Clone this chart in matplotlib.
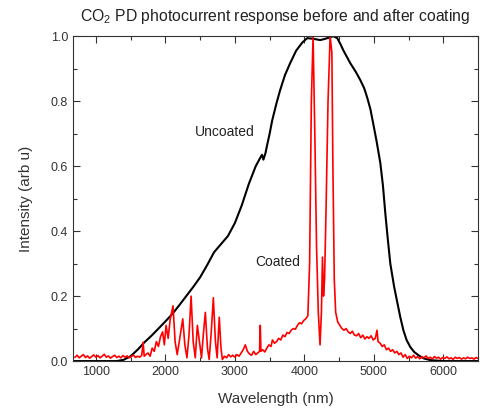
import matplotlib
matplotlib.use('Agg')
import matplotlib.pyplot as plt
from matplotlib.ticker import MultipleLocator, FormatStrFormatter

# ------------------------------------------------------ #
# Data
# ------------------------------------------------------ #
uncoated_wl = [700, 1000, 1300, 1400, 1500, 1600, 1700, 1800, 1900, 2000, 2100,
               2200, 2300, 2400, 2500, 2600, 2700, 2800, 2900, 3000, 3100, 3200,
               3300, 3363, 3390, 3410, 3440, 3464, 3500, 3536, 3600, 3651, 3720,
               3795, 3880, 3968, 4040, 4130, 4228, 4300, 4372, 4415, 4473, 4520,
               4559, 4660, 4740, 4804, 4860, 4905, 4950, 4991, 5040, 5092, 5130,
               5164, 5200, 5236, 5290, 5337, 5380, 5424, 5470, 5524, 5580, 5640,
               5720, 5813, 6000, 6500]
uncoated_int = [0.0, 0.0, 0.0, 0.004, 0.015, 0.035, 0.058, 0.078, 0.100, 0.122, 0.145,
                0.172, 0.200, 0.228, 0.258, 0.295, 0.335, 0.360, 0.385, 0.425, 0.480, 0.545,
                0.600, 0.625, 0.635, 0.620, 0.640, 0.665, 0.700, 0.740, 0.795, 0.834, 0.880,
                0.917, 0.955, 0.980, 0.994, 0.992, 0.988, 0.992, 0.997, 1.0, 0.994, 0.975,
                0.957, 0.917, 0.890, 0.865, 0.840, 0.810, 0.775, 0.730, 0.675, 0.610, 0.540,
                0.455, 0.375, 0.300, 0.230, 0.180, 0.135, 0.095, 0.065, 0.043, 0.028, 0.018,
                0.008, 0.003, 0.0, 0.0]

coated_wl = [700, 730, 760, 790, 820, 850, 880, 910, 940, 970, 1000, 1030, 1060, 1090,
             1120, 1150, 1180, 1210, 1240, 1270, 1300, 1330, 1360, 1390, 1420, 1450,
             1480, 1510, 1540, 1570, 1600, 1630, 1660, 1680, 1695, 1720, 1750, 1780,
             1810, 1840, 1870, 1900, 1930, 1960, 1985, 2010, 2040, 2070, 2110, 2140,
             2170, 2200, 2250, 2280, 2310, 2340, 2370, 2400, 2430, 2460, 2490, 2520,
             2545, 2575, 2605, 2630, 2660, 2690, 2720, 2745, 2775, 2800, 2820, 2850,
             2880, 2910, 2940, 2970, 3000, 3030, 3060, 3090, 3120, 3150, 3180, 3210,
             3240, 3270, 3300, 3330, 3355, 3365, 3375, 3400, 3430, 3460, 3490, 3520,
             3540, 3570, 3600, 3630, 3660, 3690, 3720, 3750, 3780, 3810, 3840, 3870,
             3900, 3930, 3960, 3990, 4020, 4050, 4075, 4100, 4125, 4150, 4175, 4200,
             4225, 4245, 4260, 4275, 4290, 4310, 4340, 4370, 4395, 4410, 4430, 4450,
             4480, 4510, 4540, 4570, 4600, 4630, 4660, 4690, 4720, 4750, 4780, 4810,
             4840, 4870, 4900, 4930, 4960, 4990, 5020, 5045, 5060, 5090, 5120, 5150,
             5180, 5210, 5240, 5270, 5300, 5330, 5360, 5390, 5420, 5450, 5480, 5510,
             5540, 5570, 5600, 5630, 5660, 5690, 5720, 5750, 5780, 5810, 5840, 5870,
             5900, 5930, 5960, 5990, 6020, 6050, 6080, 6110, 6140, 6170, 6200, 6230,
             6260, 6290, 6320, 6350, 6380, 6410, 6440, 6470, 6500]
coated_int = [0.012, 0.018, 0.010, 0.015, 0.020, 0.011, 0.016, 0.009, 0.014, 0.019,
              0.012, 0.017, 0.010, 0.015, 0.021, 0.012, 0.016, 0.009, 0.014, 0.018,
              0.011, 0.015, 0.010, 0.017, 0.012, 0.016, 0.010, 0.014, 0.019, 0.011,
              0.015, 0.012, 0.018, 0.058, 0.015, 0.020, 0.025, 0.015, 0.040, 0.030,
              0.060, 0.045, 0.075, 0.090, 0.050, 0.110, 0.070, 0.130, 0.170, 0.060,
              0.020, 0.060, 0.130, 0.050, 0.010, 0.080, 0.200, 0.060, 0.010, 0.110,
              0.060, 0.010, 0.080, 0.150, 0.040, 0.005, 0.090, 0.195, 0.060, 0.010,
              0.135, 0.040, 0.005, 0.015, 0.010, 0.020, 0.013, 0.018, 0.012, 0.020,
              0.015, 0.025, 0.035, 0.050, 0.030, 0.022, 0.018, 0.030, 0.020, 0.025,
              0.030, 0.110, 0.030, 0.035, 0.028, 0.040, 0.050, 0.045, 0.065, 0.055,
              0.060, 0.070, 0.065, 0.080, 0.075, 0.088, 0.085, 0.095, 0.100, 0.098,
              0.110, 0.118, 0.115, 0.125, 0.130, 0.140, 0.300, 0.800, 1.000, 0.700,
              0.350, 0.150, 0.050, 0.150, 0.320, 0.200, 0.250, 0.450, 0.800, 1.000,
              0.950, 0.600, 0.250, 0.150, 0.120, 0.110, 0.100, 0.095, 0.100, 0.090,
              0.085, 0.092, 0.080, 0.078, 0.085, 0.072, 0.080, 0.068, 0.075, 0.070,
              0.078, 0.065, 0.070, 0.095, 0.060, 0.055, 0.045, 0.050, 0.035, 0.040,
              0.030, 0.035, 0.025, 0.030, 0.020, 0.025, 0.012, 0.020, 0.008, 0.015,
              0.010, 0.018, 0.009, 0.014, 0.007, 0.013, 0.010, 0.016, 0.008, 0.012,
              0.006, 0.014, 0.009, 0.012, 0.006, 0.011, 0.008, 0.013, 0.007, 0.010,
              0.005, 0.012, 0.008, 0.011, 0.006, 0.010, 0.007, 0.012, 0.008, 0.010,
              0.006, 0.011, 0.008]

# ------------------------------------------------------ #
# Plot
# ------------------------------------------------------ #
plt.rcParams['font.family'] = ['Liberation Sans', 'DejaVu Sans']
plt.rcParams['mathtext.fontset'] = 'custom'
plt.rcParams['mathtext.rm'] = 'Liberation Sans'

fig = plt.figure(figsize=(4.83, 4.16), dpi=100)
ax = fig.add_axes([0.151, 0.132, 0.839, 0.781])

ax.plot(uncoated_wl, uncoated_int, color='black', lw=1.5)
ax.plot(coated_wl, coated_int, color='#ff0000', lw=1.2)

ax.text(2427, 0.705, 'Uncoated', fontsize=10, va='center', ha='left', color='#222222')
ax.text(3291, 0.305, 'Coated', fontsize=10, va='center', ha='left', color='#222222')

ax.set_xlim(670, 6500)
ax.set_ylim(0, 1.0)
ax.xaxis.set_major_locator(MultipleLocator(1000))
ax.xaxis.set_minor_locator(MultipleLocator(500))
ax.yaxis.set_major_locator(MultipleLocator(0.2))
ax.yaxis.set_minor_locator(MultipleLocator(0.1))
ax.yaxis.set_major_formatter(FormatStrFormatter('%.1f'))
ax.tick_params(which='both', direction='in', top=True, right=True,
               labelsize=9, colors='#333333')
ax.tick_params(which='major', length=5, width=0.8)
ax.tick_params(which='minor', length=3, width=0.8)
for s in ax.spines.values():
    s.set_linewidth(0.8)
    s.set_color('#333333')

ax.set_xlabel('Wavelength (nm)', fontsize=11, color='#333333', labelpad=10)
ax.set_ylabel('Intensity (arb u)', fontsize=11, color='#333333', labelpad=13)
ax.set_title(r'CO$\mathregular{_2}$ PD photocurrent response before and after coating',
             fontsize=11.3, color='#222222', pad=11)

fig.savefig('out.png', dpi=100)
